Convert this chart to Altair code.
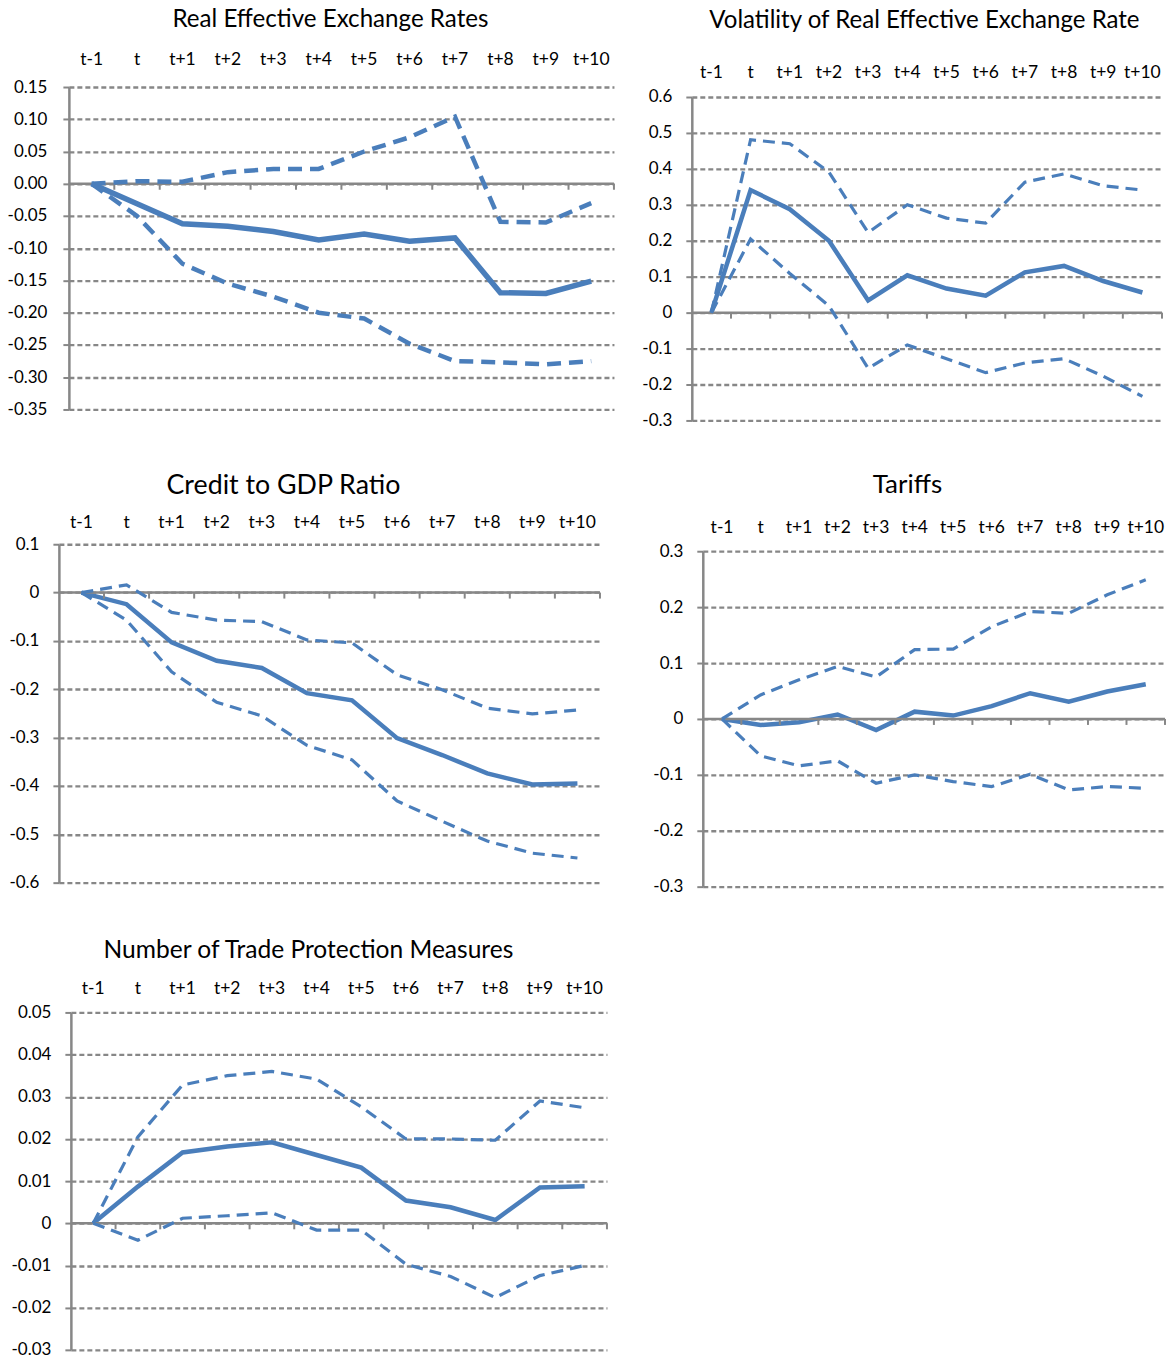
import altair as alt
import pandas as pd

# Horizon labels shared by every panel
periods = ["t-1", "t", "t+1", "t+2", "t+3", "t+4", "t+5", "t+6", "t+7", "t+8", "t+9", "t+10"]

# Real effective exchange rates: point estimate and confidence bounds
reer_mid = [0.0, -0.031, -0.062, -0.066, -0.074, -0.087, -0.078, -0.089, -0.084, -0.169, -0.170, -0.151]
reer_hi = [0.0, 0.004, 0.003, 0.018, 0.023, 0.023, 0.050, 0.072, 0.104, -0.059, -0.060, -0.030]
reer_lo = [0.0, -0.050, -0.124, -0.155, -0.175, -0.200, -0.209, -0.248, -0.275, -0.277, -0.280, -0.275]
reer_ticks = [-0.35, -0.30, -0.25, -0.20, -0.15, -0.10, -0.05, 0.0, 0.05, 0.10, 0.15]

# Volatility of the real effective exchange rate
vol_mid = [0.0, 0.341, 0.288, 0.200, 0.034, 0.104, 0.067, 0.047, 0.112, 0.130, 0.088, 0.056]
vol_hi = [0.0, 0.481, 0.470, 0.391, 0.223, 0.300, 0.263, 0.249, 0.363, 0.386, 0.353, 0.341]
vol_lo = [0.0, 0.205, 0.109, 0.019, -0.155, -0.090, -0.128, -0.167, -0.140, -0.128, -0.177, -0.233]
vol_ticks = [-0.3, -0.2, -0.1, 0.0, 0.1, 0.2, 0.3, 0.4, 0.5, 0.6]

# Credit to GDP ratio
credit_mid = [0.0, -0.024, -0.103, -0.141, -0.156, -0.208, -0.223, -0.301, -0.336, -0.374, -0.397, -0.395]
credit_hi = [0.0, 0.016, -0.041, -0.057, -0.060, -0.098, -0.104, -0.170, -0.201, -0.239, -0.251, -0.243]
credit_lo = [0.0, -0.057, -0.164, -0.227, -0.255, -0.316, -0.346, -0.431, -0.473, -0.514, -0.539, -0.549]
credit_ticks = [-0.6, -0.5, -0.4, -0.3, -0.2, -0.1, 0.0, 0.1]

# Tariffs
tariff_mid = [0.0, -0.011, -0.006, 0.008, -0.020, 0.013, 0.006, 0.023, 0.046, 0.031, 0.049, 0.062]
tariff_hi = [0.0, 0.043, 0.070, 0.094, 0.075, 0.124, 0.125, 0.165, 0.192, 0.189, 0.222, 0.249]
tariff_lo = [0.0, -0.066, -0.084, -0.075, -0.115, -0.100, -0.112, -0.121, -0.099, -0.127, -0.121, -0.124]
tariff_ticks = [-0.3, -0.2, -0.1, 0.0, 0.1, 0.2, 0.3]

# Number of trade protection measures
tpm_mid = [0.0, 0.0087, 0.0168, 0.0182, 0.0192, 0.0162, 0.0132, 0.0054, 0.0038, 0.0008, 0.0085, 0.0088]
tpm_hi = [0.0, 0.0205, 0.0328, 0.0350, 0.0360, 0.0342, 0.0276, 0.0200, 0.0200, 0.0197, 0.0290, 0.0274]
tpm_lo = [0.0, -0.0040, 0.0012, 0.0018, 0.0025, -0.0016, -0.0016, -0.0097, -0.0126, -0.0176, -0.0124, -0.0100]
tpm_ticks = [-0.03, -0.02, -0.01, 0.0, 0.01, 0.02, 0.03, 0.04, 0.05]

BLUE = "#4a7ebb"
GREY = "#878787"
FONT = "Lato"


def panel(title, mid, hi, lo, ticks, fmt, width, height, x_range, y_range,
          label_y, title_size, title_dx, title_offset,
          line_w, dash_w, dash, label_pad=14):
    n = len(periods)
    pos = [i + 0.5 for i in range(n)]
    df = pd.DataFrame({
        "period": periods * 3,
        "pos": pos * 3,
        "value": mid + hi + lo,
        "band": ["mid"] * n + ["hi"] * n + ["lo"] * n,
    })
    labels = pd.DataFrame({"period": periods, "pos": pos})
    edges = pd.DataFrame({"edge": list(range(1, n + 1)), "level": [0.0] * n})
    baseline = pd.DataFrame({"start": [0], "end": [n], "level": [0.0]})

    xs = alt.Scale(domain=[0, n], range=x_range, nice=False, zero=False)
    ys = alt.Scale(domain=[min(ticks), max(ticks)], range=y_range, nice=False, zero=False)
    label_expr = f"(datum.value < 0 ? '-' : '') + format(abs(datum.value), '{fmt}')"
    yaxis = alt.Axis(
        values=ticks, tickCount=len(ticks) + 10, labelExpr=label_expr, title=None,
        labelOverlap=False, offset=-x_range[0],
        domainColor=GREY, domainWidth=2.5,
        tickColor=GREY, tickWidth=2, tickSize=6,
        grid=True, gridColor=GREY, gridWidth=2.3, gridDash=[5, 3],
        labelFont=FONT, labelFontSize=17, labelColor="black", labelPadding=label_pad,
    )

    mid_line = (
        alt.Chart(df).transform_filter("datum.band == 'mid'")
        .mark_line(color=BLUE, strokeWidth=line_w)
        .encode(x=alt.X("pos:Q", scale=xs, axis=None),
                y=alt.Y("value:Q", scale=ys, axis=yaxis))
    )
    band_lines = (
        alt.Chart(df).transform_filter("datum.band != 'mid'")
        .mark_line(color=BLUE, strokeWidth=dash_w, strokeDash=dash)
        .encode(x=alt.X("pos:Q", axis=None), y=alt.Y("value:Q"), detail="band:N")
    )
    zero_line = (
        alt.Chart(baseline).mark_rule(color=GREY, strokeWidth=2.5)
        .encode(x=alt.X("start:Q", axis=None), x2="end:Q", y=alt.Y("level:Q"))
    )
    zero_ticks = (
        alt.Chart(edges).mark_rule(color=GREY, strokeWidth=2, y2Offset=6)
        .encode(x=alt.X("edge:Q", axis=None), y=alt.Y("level:Q"), y2="level:Q")
    )
    period_text = (
        alt.Chart(labels).mark_text(font=FONT, fontSize=17.5, color="black",
                                    align="center", baseline="middle")
        .encode(x=alt.X("pos:Q", axis=None), y=alt.value(label_y), text="period:N")
    )
    return alt.layer(mid_line, zero_line, zero_ticks, band_lines, period_text).properties(
        width=width, height=height,
        title=alt.TitleParams(title, font=FONT, fontSize=title_size, fontWeight="normal",
                              color="black", anchor="middle", frame="group",
                              dx=title_dx, offset=title_offset),
    )


p1 = panel("Real Effective Exchange Rates", reer_mid, reer_hi, reer_lo, reer_ticks, ".2f",
           556, 334, [10, 556], [323, 0], -27, 24.2, -6, 18.5, 5.5, 4.5, [14, 8], label_pad=16)
p2 = panel("Volatility of Real Effective Exchange Rate", vol_mid, vol_hi, vol_lo, vol_ticks, "~g",
           474, 334, [0, 471], [334, 10], -14, 24.1, -4, 31.5, 4.5, 3.2, [12, 7])
p3 = panel("Credit to GDP Ratio", credit_mid, credit_hi, credit_lo, credit_ticks, "~g",
           556, 345, [0, 542], [339, 0], -21.5, 26.8, -53, 14.5, 4.5, 3.2, [12, 7])
p4 = panel("Tariffs", tariff_mid, tariff_hi, tariff_lo, tariff_ticks, "~g",
           474, 345, [11, 474], [343, 7], -16, 26, -21, 21.3, 4.5, 3.2, [12, 7])
p5 = panel("Number of Trade Protection Measures", tpm_mid, tpm_hi, tpm_lo, tpm_ticks, "~g",
           556, 338, [12, 549], [338, 0], -23, 24.6, -28, 17.2, 4.5, 3.2, [12, 7])

chart = alt.concat(
    p1, p2, p3, p4, p5,
    columns=2,
    spacing={"row": 124, "column": 78},
    bounds="flush",
    align="each",
).properties(
    padding={"left": 7, "top": 7, "right": 0, "bottom": 4},
).configure_view(stroke=None)

chart.save("out.html", embed_options={"renderer": "svg", "actions": False})
